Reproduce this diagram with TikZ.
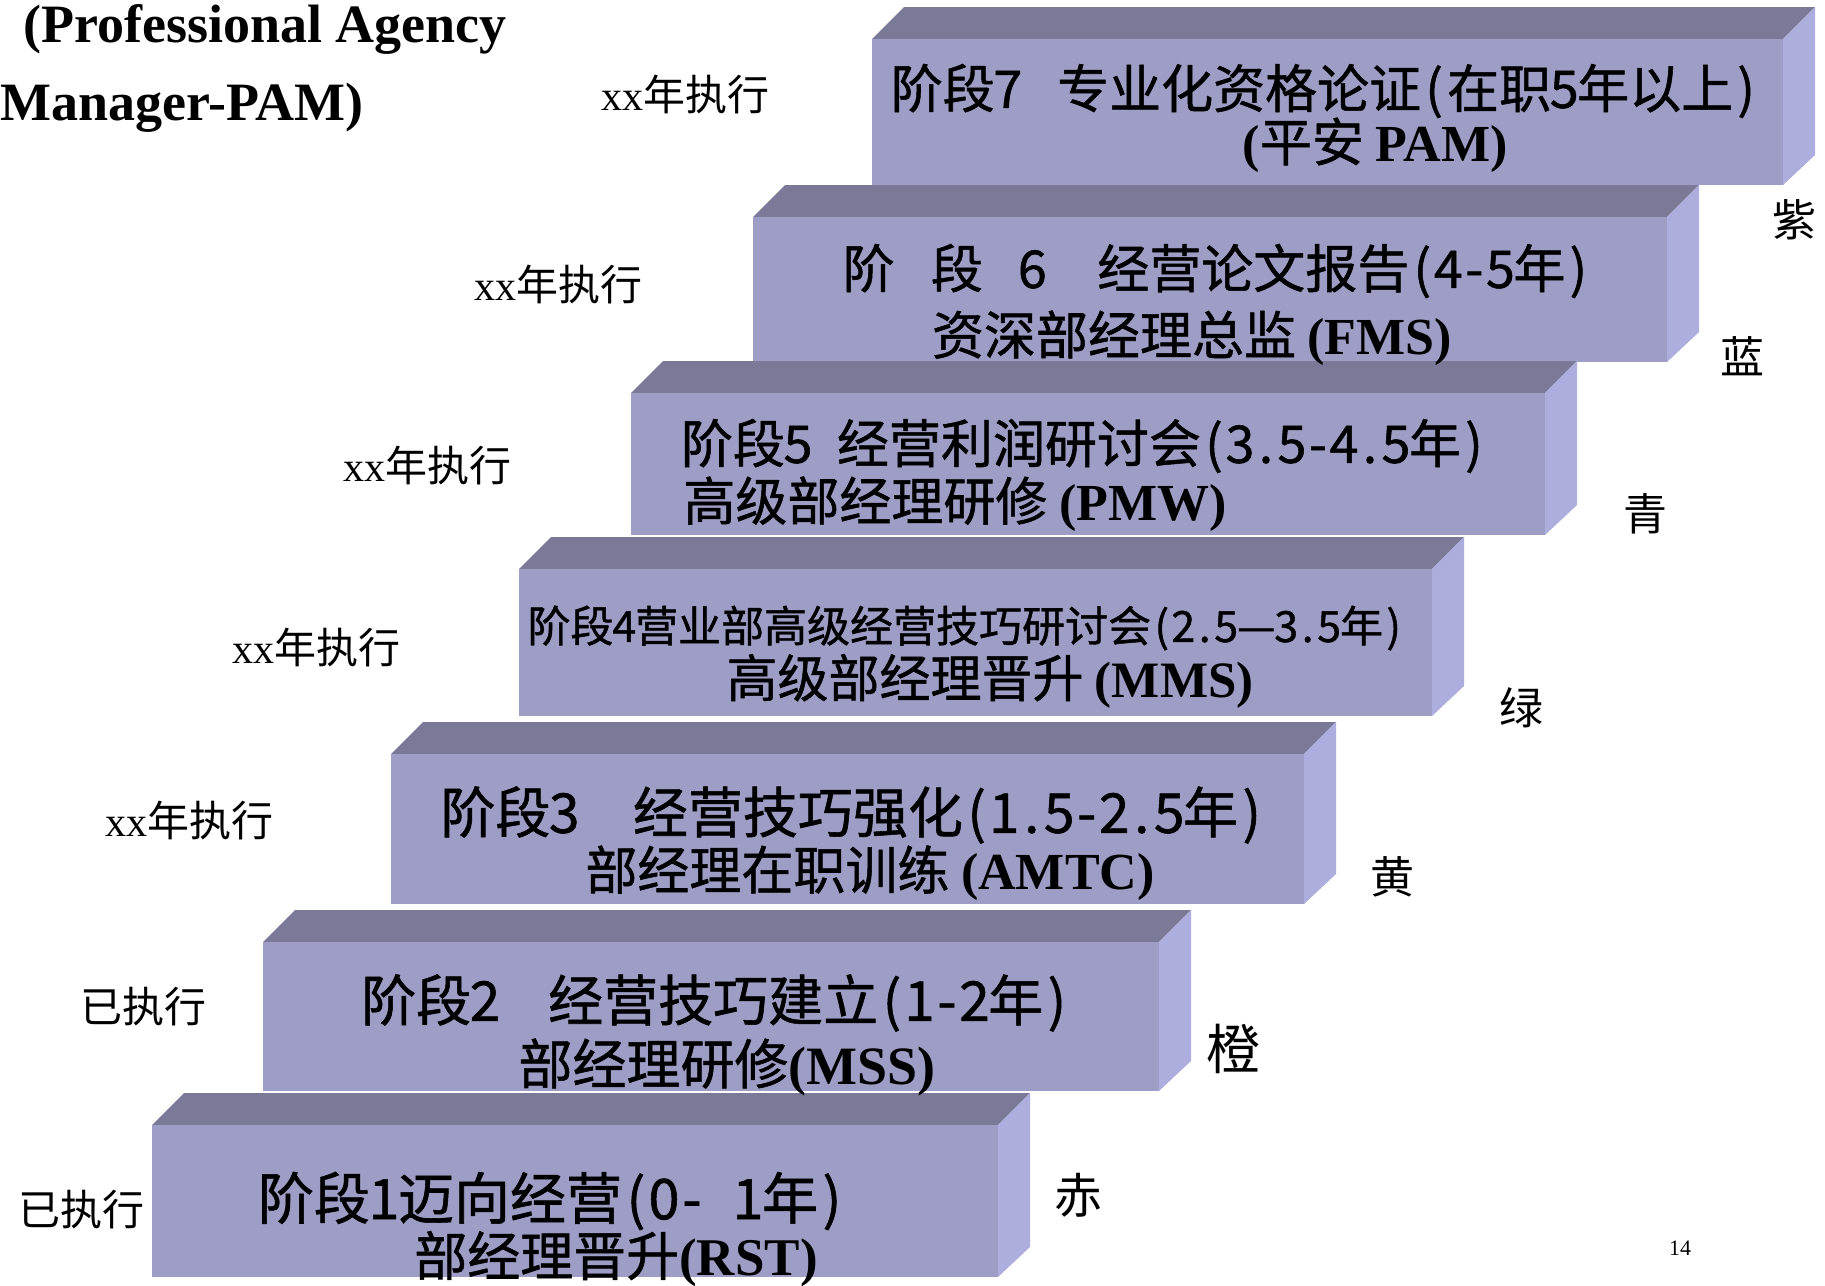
\documentclass[tikz,border=0pt]{standalone}
\usepackage{fontspec}
\setmainfont{Liberation Serif}
\newfontfamily\cjk{Noto Sans CJK SC}
\newfontfamily\cjkh{Noto Sans CJK SC}[FakeBold=1]
\definecolor{frontc}{RGB}{157,157,197}
\definecolor{topc}{RGB}{122,122,152}
\definecolor{sidec}{RGB}{174,174,222}
\newcommand\stepblk[4]{%
  \fill[topc] (#1,#3+32) -- (#1+32,#3) -- (#2+32,#3) -- (#2,#3+32) -- cycle;
  \fill[sidec] (#2,#3+32) -- (#2+32,#3) -- (#2+32,#4-30) -- (#2,#4) -- cycle;
  \fill[frontc] (#1,#3+32) rectangle (#2,#4);
}
\newcommand\hw[1]{\makebox[0.5em]{#1}}
\newcommand\lat[1]{{\fontspec{Liberation Serif}\bfseries #1}}
\tikzset{
  fs/.style={font=\cjkh\fontsize{#1}{#1}\selectfont},
  blk/.style={inner sep=0pt, fs=52},
  side/.style={inner sep=0pt, font=\cjk\fontsize{42}{48}\selectfont},
  colr/.style={inner sep=0pt, font=\cjk\fontsize{44}{48}\selectfont},
  ttl/.style={inner sep=0pt, anchor=west, font=\bfseries\fontsize{54}{60}\selectfont},
}
\begin{document}
\begin{tikzpicture}[x=1pt,y=-1pt]
\useasboundingbox (0,0) rectangle (1825,1285);
\fill[white] (0,0) rectangle (1825,1285);
% blocks, top to bottom
\stepblk{872}{1783}{7}{185}
\stepblk{753}{1667}{185}{362}
\stepblk{631}{1545}{361}{535}
\stepblk{519}{1432}{537}{716}
\stepblk{391}{1304}{722}{904}
\stepblk{263}{1159}{910}{1091}
\stepblk{152}{998}{1093}{1277}
% block texts
\node[blk] (b7a) at (1325,91) {阶段\hw{7}\hspace{0.7em}专业化资格论证\hw{(}在职\hw{5}年以上\hw{)}};
\node[blk] (b7b) at (1375,145) {\lat{(}平安 \lat{PAM)}};
\node[blk] (b6a) at (1217,271) {阶\hspace{0.7em}段\hspace{0.7em}\hw{6}\hspace{1em}经营论文报告\hw{(}\hw{4}\hw{-}\hw{5}年\hw{)}};
\node[blk] (b6b) at (1192,338) {资深部经理总监 \lat{(FMS)}};
\node[blk] (b5a) at (1084,446) {阶段\hw{5}\hspace{0.5em}经营利润研讨会\hw{(}\hw{3}\hw{.}\hw{5}\hw{-}\hw{4}\hw{.}\hw{5}年\hw{)}};
\node[blk] (b5b) at (955,504) {高级部经理研修 \lat{(PMW)}};
\node[blk, fs=43] (b4a) at (966,628) {阶段\hw{4}营业部高级经营技巧研讨会\hw{(}\hw{2}\hw{.}\hw{5}—\hw{3}\hw{.}\hw{5}年\hw{)}};
\node[blk, fs=51] (b4b) at (990,681) {高级部经理晋升 \lat{(MMS)}};
\node[blk, fs=55] (b3a) at (853,815) {阶段\hw{3}\hspace{1em}经营技巧强化\hw{(}\hw{1}\hw{.}\hw{5}\hw{-}\hw{2}\hw{.}\hw{5}年\hw{)}};
\node[blk] (b3b) at (870,873) {部经理在职训练 \lat{(AMTC)}};
\node[blk, fs=55] (b2a) at (716,1003) {阶段\hw{2}\hspace{0.9em}经营技巧建立\hw{(}\hw{1}\hw{-}\hw{2}年\hw{)}};
\node[blk, fs=54] (b2b) at (727,1067) {部经理研修\lat{(MSS)}};
\node[blk, fs=56] (b1a) at (552,1201) {阶段\hw{1}迈向经营\hw{(}\hw{0}\hw{-}\hspace{0.5em}\hw{1}年\hw{)}};
\node[blk, fs=53] (b1b) at (616,1259) {部经理晋升\lat{(RST)}};
% left labels
\node[side] (s7) at (685,95) {{\rmfamily xx}年执行};
\node[side] (s6) at (558,285) {{\rmfamily xx}年执行};
\node[side] (s5) at (427,466) {{\rmfamily xx}年执行};
\node[side] (s4) at (316,648) {{\rmfamily xx}年执行};
\node[side] (s3) at (189,821) {{\rmfamily xx}年执行};
\node[side] (s2) at (143,1007) {已执行};
\node[side] (s1) at (81,1210) {已执行};
% colour labels
\node[colr] (c7) at (1794,220) {紫};
\node[colr] (c6) at (1742,356) {蓝};
\node[colr] (c5) at (1645,514) {青};
\node[colr] (c4) at (1521,708) {绿};
\node[colr] (c3) at (1392,877) {黄};
\node[colr, font=\cjk\fontsize{54}{58}\selectfont] (c2) at (1233,1049) {橙};
\node[colr, font=\cjk\fontsize{48}{52}\selectfont] (c1) at (1078,1195) {赤};
% title
\node[ttl] (t1) at (23,29) {(Professional Agency};
\node[ttl] (t2) at (0,108) {Manager-PAM)};
\node[inner sep=0pt, font=\fontsize{22}{24}\selectfont] (pg) at (1680,1248) {14};
\end{tikzpicture}
\end{document}
